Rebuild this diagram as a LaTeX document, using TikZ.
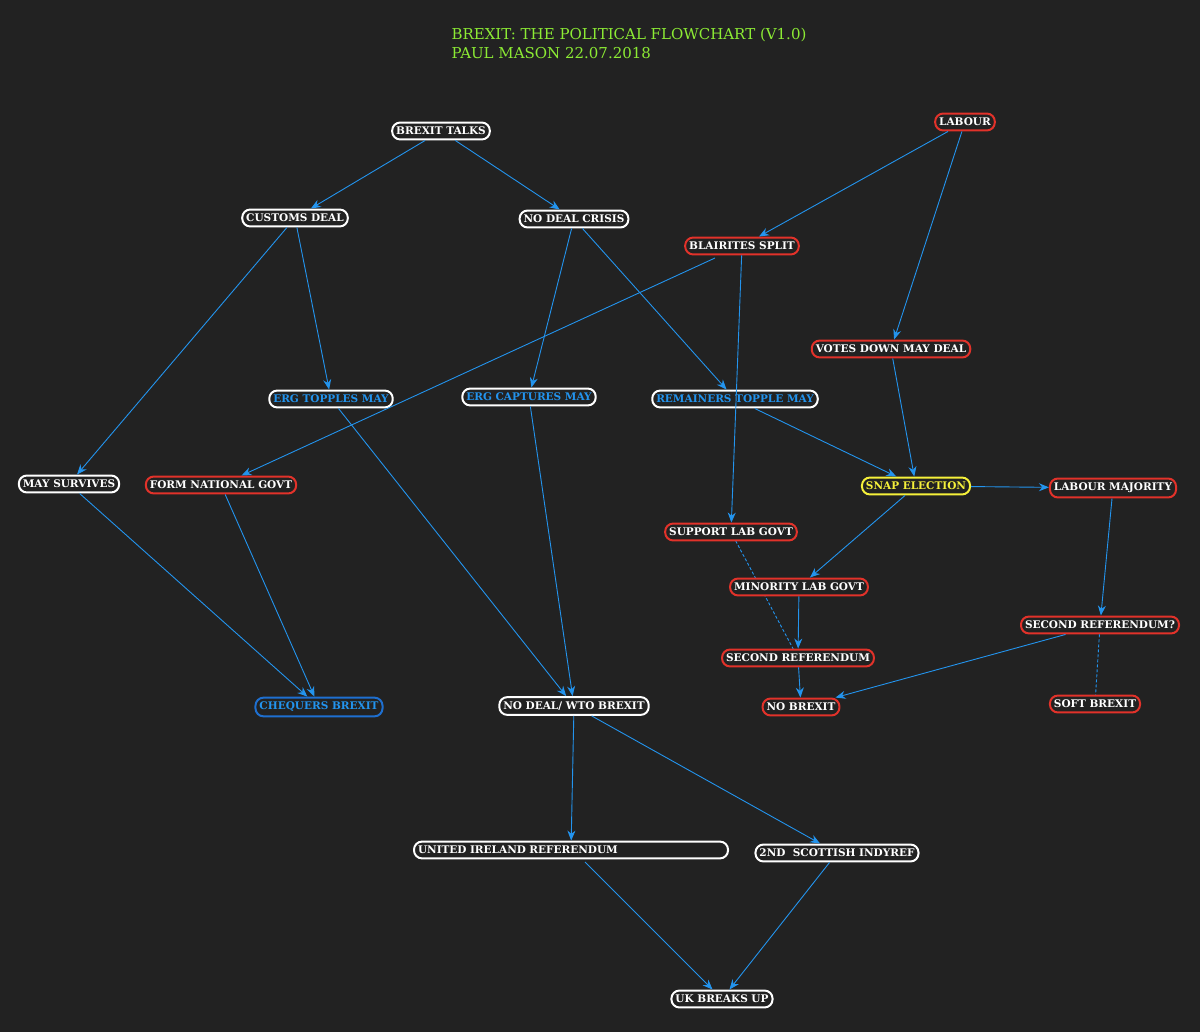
\documentclass[tikz,border=0pt]{standalone}
\usepackage{fontspec}
\setmainfont{DejaVu Serif}
\usetikzlibrary{arrows.meta}
\definecolor{bg}{HTML}{222222}
\definecolor{arr}{HTML}{2394EE}
\definecolor{rd}{HTML}{E2322A}
\definecolor{ttl}{HTML}{8CEB34}
\definecolor{bl}{HTML}{1E6FD0}
\definecolor{yl}{HTML}{F5F03A}
\tikzset{
 box/.style={draw=white, line width=2pt, rounded corners=8pt, fill=bg, text=white, font=\fontsize{10.5}{12}\selectfont\bfseries, inner xsep=4pt, inner ysep=4.5pt},
 rbox/.style={box, draw=rd},
 bbox/.style={box, text=arr},
 ar/.style={-{Stealth[length=10pt,width=8pt]}, arr, line width=0.9pt},
 dl/.style={arr, line width=0.9pt, dash pattern=on 3pt off 2pt},
}
\begin{document}
\begin{tikzpicture}[x=1pt,y=-1pt]
\fill[bg] (0,0) rectangle (1200,1032);
\useasboundingbox (0,0) rectangle (1200,1032);
\node[anchor=west, text=ttl, font=\fontsize{15}{19}\selectfont, align=left] (title) at (448,43) {BREXIT: THE POLITICAL FLOWCHART (V1.0)\\PAUL MASON 22.07.2018};
\draw[dl] (731,532) -- (798,658);
\node[box] (bt) at (441,131) {BREXIT TALKS};
\node[box] (cd) at (295,218) {CUSTOMS DEAL};
\node[box] (ndc) at (574,219) {NO DEAL CRISIS};
\node[rbox] (lab) at (965,122) {LABOUR};
\node[rbox] (bs) at (742,246) {BLAIRITES SPLIT};
\node[rbox] (vd) at (891,349) {VOTES DOWN MAY DEAL};
\node[bbox] (etm) at (331,399) {ERG TOPPLES MAY};
\node[bbox] (ecm) at (529,397) {ERG CAPTURES MAY};
\node[bbox] (rtm) at (735,399) {REMAINERS TOPPLE MAY};
\node[box] (ms) at (69,484) {MAY SURVIVES};
\node[rbox] (fng) at (221,485) {FORM NATIONAL GOVT};
\node[box, draw=yl, text=yl] (se) at (916,486) {SNAP ELECTION};
\node[rbox] (lm) at (1113,488) {LABOUR MAJORITY};
\node[rbox] (slg) at (731,532) {SUPPORT LAB GOVT};
\node[rbox] (mlg) at (799,587) {MINORITY LAB GOVT};
\node[rbox] (srq) at (1100,625) {SECOND REFERENDUM?};
\node[rbox] (sr) at (798,658) {SECOND REFERENDUM};
\node[rbox] (nb) at (801,707) {NO BREXIT};
\node[rbox] (sb) at (1095,704) {SOFT BREXIT};
\node[bbox, draw=bl] (cb) at (319,707) {CHEQUERS BREXIT};
\node[box] (nd) at (574,706) {NO DEAL/ WTO BREXIT};
\node[box, text width=306pt, align=left] (uir) at (571,850) {UNITED IRELAND REFERENDUM};
\node[box] (sc) at (837,853) {2ND\ \ SCOTTISH INDYREF};
\node[box] (uk) at (722,999) {UK BREAKS UP};
\coordinate (bs1) at (715,258);
\coordinate (u2) at (585,862);
\draw[ar] (bt) -- (cd);
\draw[ar] (bt) -- (ndc);
\draw[ar] (cd) -- (ms);
\draw[ar] (cd) -- (etm);
\draw[ar] (ndc) -- (ecm);
\draw[ar] (ndc) -- (rtm);
\draw[ar] (lab) -- (bs);
\draw[ar] (lab) -- (vd);
\draw[ar] (bs1) -- (fng);
\draw[ar] (bs) -- (slg);
\draw[ar] (vd) -- (se);
\draw[ar] (etm) -- (nd);
\draw[ar] (ecm) -- (nd);
\draw[ar] (rtm) -- (se);
\draw[ar] (ms) -- (cb);
\draw[ar] (fng) -- (cb);
\draw[ar] (se) -- (lm);
\draw[ar] (se) -- (mlg);
\draw[ar] (lm) -- (srq);
\draw[ar] (srq) -- (nb);
\draw[ar] (mlg) -- (sr);
\draw[ar] (sr) -- (nb);
\draw[dl] (srq) -- (sb);
\draw[ar] (nd) -- (uir);
\draw[ar] (nd) -- (sc);
\draw[ar] (u2) -- (uk);
\draw[ar] (sc) -- (uk);
\end{tikzpicture}
\end{document}
